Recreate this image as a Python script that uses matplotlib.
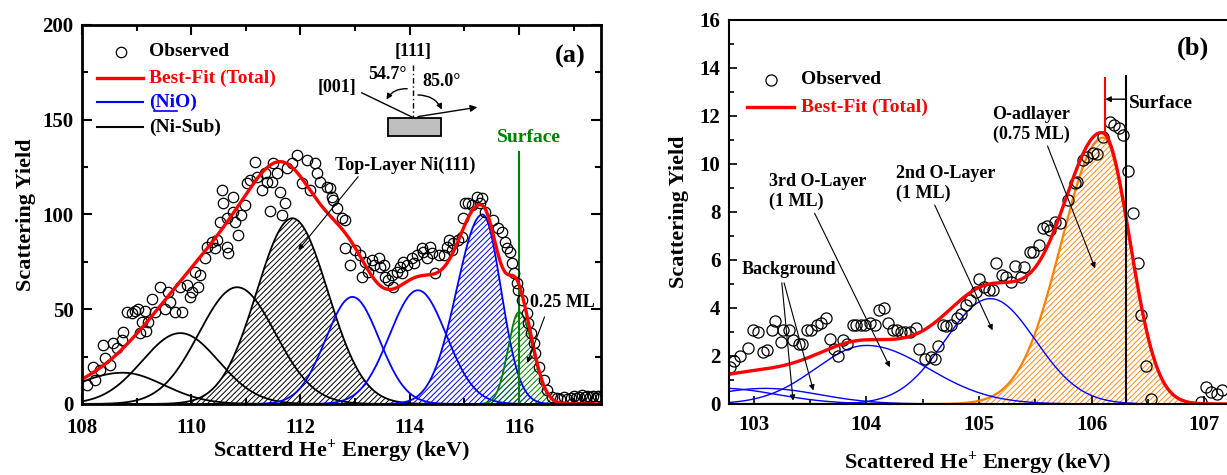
import numpy as np
import matplotlib
matplotlib.use("Agg")
import matplotlib.pyplot as plt
from matplotlib.patches import Rectangle
from matplotlib.ticker import MultipleLocator

plt.rcParams['font.family'] = ['Liberation Serif', 'DejaVu Serif']
plt.rcParams['font.weight'] = 'bold'
plt.rcParams['axes.labelweight'] = 'bold'
plt.rcParams['mathtext.fontset'] = 'custom'
plt.rcParams['mathtext.rm'] = 'Liberation Serif:bold'
plt.rcParams['mathtext.default'] = 'rm'
plt.rcParams['hatch.linewidth'] = 0.7

# ---------------- panel (a) data ----------------
# observed yield (keV, counts)
obs_a_x = [108.09, 108.24, 108.21, 108.33, 108.42, 108.51, 108.39, 108.57, 108.64, 108.73,
           108.76, 108.91, 108.82, 108.97, 109.03, 109.15, 109.09, 109.21, 109.06, 109.18,
           109.28, 109.34, 109.43, 109.52, 109.58, 109.61, 109.70, 109.79, 109.83, 109.92,
           109.98, 110.01, 110.07, 110.13, 110.16, 110.25, 110.28, 110.38, 110.44, 110.47,
           110.65, 110.68, 110.53, 110.65, 110.77, 110.80, 110.86, 110.59, 110.56, 110.77,
           110.92, 110.99, 111.02, 111.08, 111.17, 111.20, 111.29, 111.35, 111.38, 111.47,
           111.50, 111.57, 111.63, 111.66, 111.72, 111.44, 111.75, 111.84, 111.93, 112.02,
           112.11, 112.18, 112.27, 112.30, 112.36, 112.48, 112.57,
           112.54, 112.60, 112.66, 112.76, 112.82, 112.82, 112.91, 113.00, 113.09, 113.12,
           113.18, 113.24, 113.31, 113.34, 113.43, 113.46, 113.52, 113.55, 113.61, 113.67,
           113.70, 113.76, 113.82, 113.85, 113.88, 113.95, 114.04, 114.07, 114.13, 114.22,
           114.25, 114.31, 114.37, 114.40, 114.47, 114.53, 114.62, 114.68, 114.71, 114.77,
           114.80, 114.89, 114.95, 114.98, 115.01, 115.07, 115.14, 115.23, 115.29, 115.32,
           115.38, 115.53, 115.62, 115.69, 115.75, 115.78, 115.84, 115.87, 115.90, 115.96,
           115.99, 116.05, 116.14, 116.17, 116.21, 116.27, 116.30, 116.36, 116.45, 116.51,
           116.60, 116.69, 116.75, 116.82, 116.88, 116.95, 117.00, 117.05, 117.10, 117.15,
           117.20, 117.25, 117.30, 117.35, 117.40, 117.45, 117.50]
obs_a_y = [10.0, 12.7, 19.7, 17.9, 24.1, 20.6, 31.1, 32.0, 29.4, 33.8,
           38.2, 48.2, 48.7, 49.2, 50.0, 49.2, 43.4, 43.4, 37.6, 38.7,
           55.2, 48.7, 61.9, 50.0, 59.3, 54.0, 48.7, 61.9, 48.7, 62.8,
           56.6, 59.3, 69.8, 61.9, 68.1, 76.9, 83.0, 85.6, 82.2, 86.5,
           83.0, 79.5, 96.2, 98.0, 101.5, 96.2, 89.2, 105.9, 112.9, 109.4,
           99.7, 105.0, 116.4, 118.2, 127.9, 120.0, 112.9, 121.7, 117.3, 117.3,
           127.0, 121.7, 112.0, 99.7, 105.9, 101.8, 124.4, 127.0, 131.4, 116.4,
           128.8, 112.9, 127.0, 121.7, 117.3, 114.7, 109.4,
           113.8, 107.7, 103.3, 98.0, 97.1, 82.2, 73.4, 81.3, 78.6, 67.2,
           75.1, 69.8, 76.0, 73.4, 76.9, 72.5, 73.4, 67.2, 65.4, 68.1,
           61.9, 69.8, 72.5, 69.0, 75.1, 73.4, 76.9, 74.3, 78.6, 82.2,
           80.4, 76.9, 83.0, 79.5, 69.0, 78.6, 78.6, 83.0, 86.5, 81.3,
           84.8, 86.5, 88.3, 98.0, 105.9, 105.9, 105.0, 109.4, 105.9, 108.5,
           101.5, 97.1, 92.7, 90.9, 85.6, 82.2, 80.4, 74.3, 69.0, 63.7,
           60.2, 54.9, 47.9, 42.6, 37.3, 32.0, 26.8, 19.7, 12.7, 7.4,
           3.9, 3.0, 2.5, 3.5, 2.8, 3.2, 4.0, 3.0, 3.6, 4.5,
           3.8, 4.2, 3.5, 4.0, 3.2, 4.3, 3.8]

# fitted peaks: centre (keV), height, left / right widths
ni_c = [108.75, 109.80, 110.84, 111.85]
ni_h = [16.5, 37.4, 61.6, 98.0]
ni_sl = [0.90, 0.70, 0.70, 0.65]
ni_sr = [0.75, 0.70, 0.70, 0.65]

nio_c = [112.95, 114.15, 115.33]
nio_h = [56.5, 60.0, 100.0]
nio_sl = [0.49, 0.52, 0.47]
nio_sr = [0.49, 0.52, 0.34]

surf_c, surf_h, surf_sl, surf_sr = 116.0, 48.5, 0.20, 0.25

# ---------------- panel (b) data ----------------
obs_b_x = [102.79, 102.83, 102.88, 102.95, 102.99, 103.04, 103.08, 103.12, 103.16, 103.19,
           103.24, 103.26, 103.31, 103.35, 103.40, 103.43, 103.47, 103.51, 103.56, 103.60,
           103.64, 103.68, 103.71, 103.75, 103.79, 103.83, 103.88, 103.91, 103.95, 103.99,
           104.03, 104.08, 104.11, 104.16, 104.19, 104.24, 104.27, 104.31, 104.34, 104.39,
           104.44, 104.47, 104.52, 104.57, 104.61, 104.64, 104.68, 104.71, 104.75, 104.80,
           104.84, 104.88, 104.92, 104.97, 105.00, 105.04, 105.09, 105.12, 105.15, 105.20,
           105.24, 105.28, 105.32, 105.37, 105.40, 105.45, 105.48, 105.53, 105.57, 105.60,
           105.63, 105.67, 105.72, 105.79, 105.85, 105.87, 105.92, 105.96, 106.01, 106.05,
           106.10, 106.16, 106.20, 106.24, 106.28, 106.32, 106.37, 106.41, 106.44, 106.48,
           106.53, 106.97, 107.01, 107.06, 107.11, 107.16]
obs_b_y = [1.53, 1.79, 2.02, 2.34, 3.07, 3.00, 2.16, 2.23, 3.07, 3.46,
           2.58, 3.07, 3.07, 2.65, 2.51, 2.51, 3.07, 3.07, 3.31, 3.38,
           3.60, 2.72, 2.30, 2.02, 2.68, 2.51, 3.31, 3.28, 3.28, 3.28,
           3.38, 3.28, 3.93, 4.02, 3.38, 3.07, 3.10, 3.00, 3.00, 3.00,
           3.18, 2.30, 1.88, 1.95, 1.88, 2.41, 3.31, 3.24, 3.28, 3.60,
           3.77, 4.11, 4.32, 4.67, 5.19, 4.88, 4.77, 4.77, 5.89, 5.37,
           5.30, 5.09, 5.75, 5.30, 5.72, 6.35, 6.35, 6.62, 7.35, 7.43,
           7.25, 7.60, 7.53, 8.50, 9.22, 9.26, 10.17, 10.30, 10.47, 10.42,
           11.14, 11.76, 11.63, 11.49, 11.21, 9.72, 7.94, 5.89, 3.70, 1.60,
           0.21, 0.07, 0.70, 0.49, 0.42, 0.59]

# background (2) and O-layer peaks (3rd, 2nd)
ob_c = [102.70, 103.10, 104.00, 105.10]
ob_h = [0.66, 0.65, 2.44, 4.39]
ob_sl = [0.50, 0.48, 0.45, 0.40]
ob_sr = [0.50, 0.48, 0.55, 0.40]

ad_c, ad_h, ad_sl, ad_sr = 106.10, 11.1, 0.37, 0.24
surface_b = 106.30


def peak(x, c, h, sl, sr):
    s = np.where(x < c, sl, sr)
    return h * np.exp(-(x - c) ** 2 / (2 * s ** 2))


fig = plt.figure(figsize=(12.27, 4.75), dpi=100)
ax1 = fig.add_axes([0.0668, 0.1495, 0.423, 0.798])
ax2 = fig.add_axes([0.594, 0.1495, 0.406, 0.8084])

# ================= panel (a) =================
xa = np.linspace(108, 117.5, 1200)
total_a = np.zeros_like(xa)
for i in range(len(ni_c)):
    y = peak(xa, ni_c[i], ni_h[i], ni_sl[i], ni_sr[i])
    total_a += y
    if i == 3:
        ax1.fill_between(xa, 0, y, facecolor='none', edgecolor='black', hatch='//////', lw=0)
    ax1.plot(xa, y, color='black', lw=1.3)
for i in range(len(nio_c)):
    y = peak(xa, nio_c[i], nio_h[i], nio_sl[i], nio_sr[i])
    total_a += y
    if i == 2:
        ax1.fill_between(xa, 0, y, facecolor='none', edgecolor='blue', hatch='//////', lw=0)
    ax1.plot(xa, y, color='blue', lw=1.3)
ys = peak(xa, surf_c, surf_h, surf_sl, surf_sr)
total_a += ys
ax1.fill_between(xa, 0, ys, facecolor='none', edgecolor='green', hatch='//////', lw=0)
ax1.plot(xa, ys, color='green', lw=1.3)
ax1.plot([surf_c, surf_c], [0, 133], color='green', lw=1.5)

ax1.plot(obs_a_x, obs_a_y, 'o', mfc='none', mec='black', ms=7.5, mew=0.9)
ax1.plot(xa, total_a, color='red', lw=2.4)

ax1.set_xlim(108, 117.5)
ax1.set_ylim(0, 200)
ax1.xaxis.set_major_locator(MultipleLocator(2))
ax1.xaxis.set_minor_locator(MultipleLocator(1))
ax1.yaxis.set_major_locator(MultipleLocator(50))
ax1.yaxis.set_minor_locator(MultipleLocator(25))
ax1.tick_params(which='both', direction='in', top=True, right=True, width=1.5, labelsize=15)
ax1.tick_params(which='major', length=7)
ax1.tick_params(which='minor', length=4)
ax1.tick_params(axis='x', pad=10)
ax1.tick_params(axis='y', pad=6)
for sp in ax1.spines.values():
    sp.set_linewidth(2)
ax1.set_xlabel('Scatterd He$^{+}$ Energy (keV)', fontsize=16, labelpad=0)
ax1.set_ylabel('Scattering Yield', fontsize=16, labelpad=5)

# legend drawn by hand
T = ax1.transAxes
ax1.plot([0.075], [0.929], 'o', mfc='none', mec='black', ms=7.5, mew=0.9, transform=T)
ax1.text(0.129, 0.929, 'Observed', transform=T, fontsize=14, va='center')
ax1.plot([0.029, 0.1175], [0.860, 0.860], color='red', lw=2.4, transform=T)
ax1.text(0.129, 0.860, 'Best-Fit (Total)', transform=T, fontsize=14, va='center', color='red')
ax1.plot([0.029, 0.1175], [0.797, 0.797], color='blue', lw=1.5, transform=T)
ax1.text(0.129, 0.797, '(NiO)', transform=T, fontsize=14, va='center', color='blue')
ax1.plot([0.138, 0.183], [0.772, 0.772], color='blue', lw=1.2, transform=T)
ax1.plot([0.029, 0.1175], [0.731, 0.731], color='black', lw=1.5, transform=T)
ax1.text(0.129, 0.731, '(Ni-Sub)', transform=T, fontsize=14, va='center')
ax1.text(0.940, 0.916, '(a)', transform=T, fontsize=19, ha='center', va='center')

# geometry sketch
ax1.text(0.638, 0.929, '[111]', transform=T, fontsize=13, ha='center', va='center')
ax1.plot([0.638, 0.638], [0.894, 0.757], color='black', lw=1, ls=(0, (4, 2, 1, 2)), transform=T)
ax1.text(0.588, 0.868, '54.7°', transform=T, fontsize=13, ha='center', va='center')
ax1.text(0.692, 0.852, '85.0°', transform=T, fontsize=13, ha='center', va='center')
ax1.text(0.491, 0.836, '[001]', transform=T, fontsize=13, ha='center', va='center')
ax1.plot([0.539, 0.636], [0.821, 0.757], color='black', lw=1, transform=T)
ax1.annotate('', xy=(0.767, 0.784), xytext=(0.642, 0.757), xycoords=T, textcoords=T,
             arrowprops=dict(arrowstyle='-|>', color='black', lw=1, mutation_scale=10))
ax1.annotate('', xy=(0.584, 0.797), xytext=(0.632, 0.831), xycoords=T, textcoords=T,
             arrowprops=dict(arrowstyle='-|>', color='black', lw=1, mutation_scale=8,
                             connectionstyle='arc3,rad=0.35'))
ax1.annotate('', xy=(0.696, 0.770), xytext=(0.642, 0.815), xycoords=T, textcoords=T,
             arrowprops=dict(arrowstyle='-|>', color='black', lw=1, mutation_scale=8,
                             connectionstyle='arc3,rad=-0.35'))
ax1.add_patch(Rectangle((0.590, 0.707), 0.102, 0.048, transform=T, facecolor='#bfbfbf',
                        edgecolor='black', lw=1.3))
ax1.text(0.861, 0.704, 'Surface', transform=T, fontsize=14, ha='center', va='center', color='green')

ax1.annotate('Top-Layer Ni(111)', xy=(111.96, 81.3), xytext=(113.92, 126), fontsize=13,
             ha='center', va='center',
             arrowprops=dict(arrowstyle='-|>', color='black', lw=0.8, mutation_scale=8,
                             shrinkA=0, shrinkB=0, relpos=(0.18, 0.0)))
ax1.annotate('0.25 ML', xy=(116.15, 21.6), xytext=(116.80, 53.3), fontsize=13,
             ha='center', va='center',
             arrowprops=dict(arrowstyle='-|>', color='black', lw=0.8, mutation_scale=8,
                             shrinkA=2, shrinkB=0, relpos=(0.25, 0.0)))

# ================= panel (b) =================
xb = np.linspace(102.78, 107.2, 1200)
total_b = np.zeros_like(xb)
yad = peak(xb, ad_c, ad_h, ad_sl, ad_sr)
total_b += yad
ax2.fill_between(xb, 0, yad, facecolor='none', edgecolor='#ff8c1a', hatch='//////', lw=0)
ax2.plot(xb, yad, color='#ff7f00', lw=1.6)
for i in range(len(ob_c)):
    y = peak(xb, ob_c[i], ob_h[i], ob_sl[i], ob_sr[i])
    total_b += y
    ax2.plot(xb, y, color='blue', lw=1.0)

ax2.plot(obs_b_x, obs_b_y, 'o', mfc='none', mec='black', ms=8, mew=0.9)
ax2.plot(xb, total_b, color='red', lw=2.4)

ax2.plot([surface_b, surface_b], [0, 13.67], color='black', lw=1.5)
ax2.plot([ad_c + 0.02, ad_c + 0.02], [11.2, 13.6], color='red', lw=1.5)
ax2.annotate('', xy=(ad_c + 0.02, 12.7), xytext=(surface_b, 12.7),
             arrowprops=dict(arrowstyle='-|>', color='black', lw=1, mutation_scale=8,
                             shrinkA=0, shrinkB=0))
ax2.text(surface_b + 0.03, 12.5, 'Surface', fontsize=14, ha='left', va='center')

ax2.set_xlim(102.78, 107.2)
ax2.set_ylim(0, 16)
ax2.xaxis.set_major_locator(MultipleLocator(1))
ax2.xaxis.set_minor_locator(MultipleLocator(0.5))
ax2.yaxis.set_major_locator(MultipleLocator(2))
ax2.yaxis.set_minor_locator(MultipleLocator(1))
ax2.tick_params(which='both', direction='in', width=1.2, labelsize=15)
ax2.tick_params(which='major', length=6)
ax2.tick_params(which='minor', length=3.5)
ax2.tick_params(axis='x', pad=8)
ax2.tick_params(axis='y', pad=6)
for sp in ax2.spines.values():
    sp.set_linewidth(1.5)
ax2.spines['right'].set_visible(False)
ax2.set_xlabel('Scattered He$^{+}$ Energy (keV)', fontsize=16, labelpad=10)
ax2.set_ylabel('Scattering Yield', fontsize=16, labelpad=8)

ax2.plot([103.15], [13.5], 'o', mfc='none', mec='black', ms=8, mew=0.9)
ax2.text(103.42, 13.5, 'Observed', fontsize=14, va='center')
ax2.plot([102.94, 103.36], [12.375, 12.375], color='red', lw=2.4)
ax2.text(103.42, 12.375, 'Best-Fit (Total)', fontsize=14, va='center', color='red')
ax2.text(106.90, 14.83, '(b)', fontsize=19, ha='center', va='center')

arr = dict(arrowstyle='-|>', color='black', lw=0.8, mutation_scale=8, shrinkA=0, shrinkB=0)
ax2.annotate('3rd O-Layer\n(1 ML)', xy=(104.21, 1.53), xytext=(103.14, 8.85), fontsize=13,
             ha='left', va='center', linespacing=1.25, arrowprops=dict(arr, relpos=(0.45, 0.0)))
ax2.annotate('2nd O-Layer\n(1 ML)', xy=(105.12, 3.07), xytext=(104.26, 9.19), fontsize=13,
             ha='left', va='center', linespacing=1.25, arrowprops=dict(arr, relpos=(0.38, 0.0)))
ax2.annotate('O-adlayer\n(0.75 ML)', xy=(106.03, 5.65), xytext=(105.46, 11.65), fontsize=13,
             ha='center', va='center', linespacing=1.25, arrowprops=dict(arr, relpos=(0.7, 0.0)))
ax2.text(102.89, 5.6, 'Background', fontsize=13, ha='left', va='center')
ax2.annotate('', xy=(103.35, 0.14), xytext=(103.25, 5.05), arrowprops=arr)
ax2.annotate('', xy=(103.53, 0.56), xytext=(103.27, 5.05), arrowprops=arr)

fig.savefig('out.png', dpi=100)
